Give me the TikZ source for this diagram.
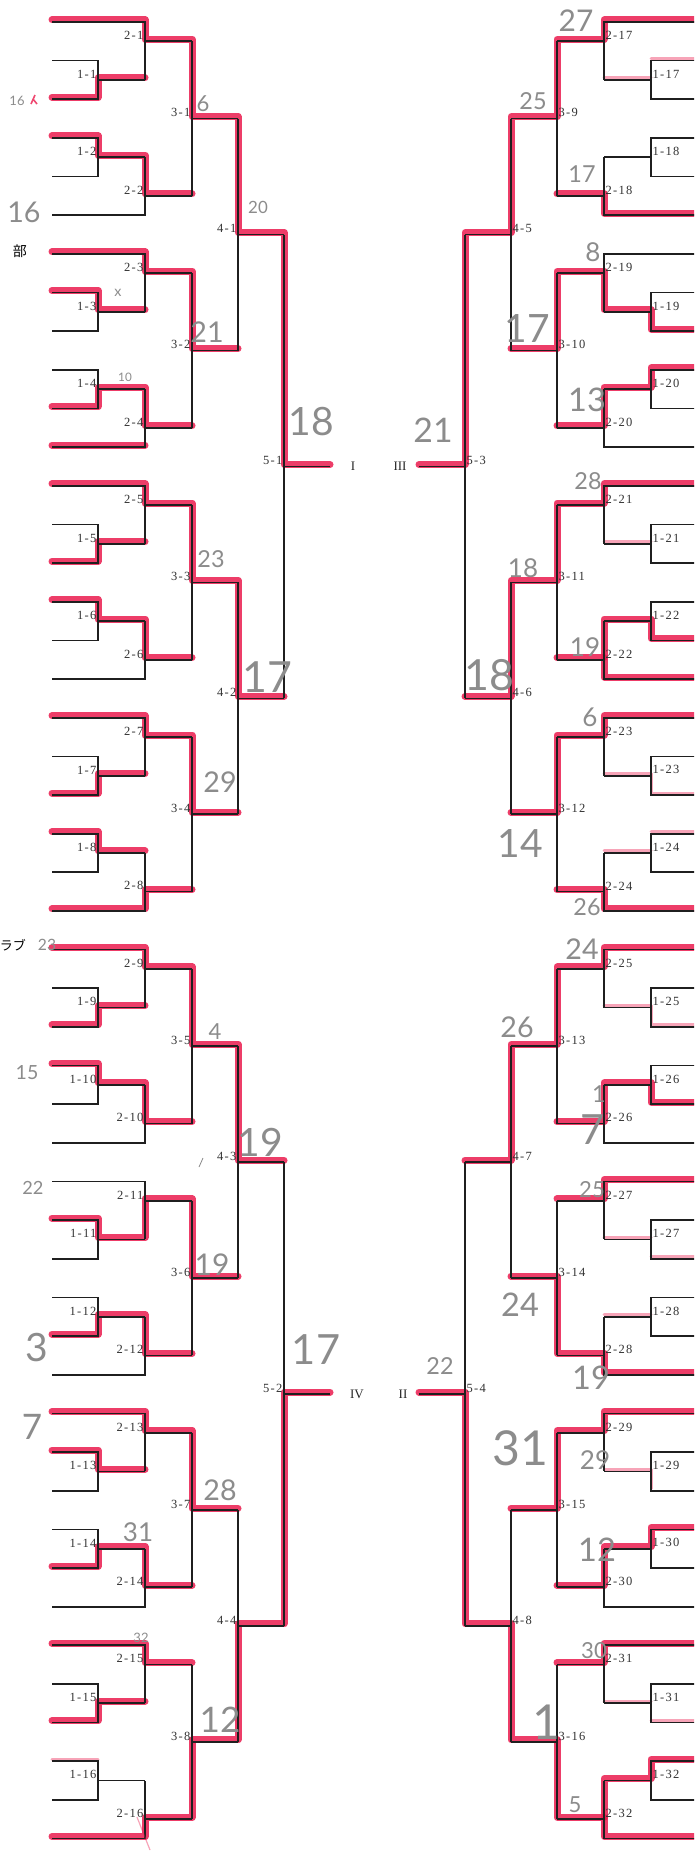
\documentclass[tikz,border=0pt]{standalone}
\usepackage{fontspec}
\setmainfont{Liberation Serif}
\newfontfamily\labfont[LetterSpace=10]{Liberation Serif}
\newfontfamily\hand{Lato}
\newfontfamily\cjk{Noto Sans CJK JP}
\definecolor{marker}{RGB}{235,28,78}
\definecolor{pencil}{RGB}{140,140,140}
\def\XS{52}\def\XA{98}\def\XB{145}\def\XC{192}\def\XD{238}\def\XE{284}\def\XO{330}
\tikzset{
  br/.style={line width=1.7pt, draw=black!88},
  lab/.style={font=\labfont\fontsize{12.5}{12.5}\selectfont, text=black!80, inner sep=1.4pt},
  roman/.style={font=\fontsize{13}{13}\selectfont, text=black!85, inner sep=0pt},
  hl/.style={line width=7pt, draw=marker, draw opacity=0.85, line cap=round, line join=round},
  hlf/.style={line width=3pt, draw=marker, draw opacity=0.4, line cap=round, line join=round},
  hand/.style={text=pencil, inner sep=0pt},
}
\newcommand\hw[5]{\node[hand,font={\hand\fontsize{\fpeval{1.3*#4}}{\fpeval{1.3*#4}}\selectfont}] (#1) at (#2,#3) {#5};}
\newcommand\bracketside[3]{%
  \foreach \g in {0,...,15}{%
    \pgfmathtruncatemacro\od{mod(\g,2)}%
    \pgfmathsetmacro\tp{3*\g+1-\od}%
    \pgfmathsetmacro\bt{\tp+1}%
    \pgfmathsetmacro\by{3*\g+2*\od}%
    \pgfmathsetmacro\oa{\tp+0.5}%
    \pgfmathsetmacro\ob{3*\g+0.5+\od}%
    \pgfmathtruncatemacro\k{\g+1+16*#1}%
    \coordinate (#3t\g) at (\XS,\tp);
    \coordinate (#3u\g) at (\XS,\bt);
    \coordinate (#3y\g) at (\XS,\by);
    \coordinate (#3a\g) at (\XA,\oa);
    \coordinate (#3b\g) at (\XB,\ob);
    \draw[br] (#3t\g) -| (\XA,\bt) -- (#3u\g);
    \draw[br] (#3a\g) -- (\XB,\oa);
    \draw[br] (#3y\g) -| (\XB,\oa);
    \draw[br] (#3b\g) -- (\XC,\ob);
    \node[lab,anchor=#2] (#3n\g) at (#3a\g) {1-\k};
    \node[lab,anchor=#2] (#3m\g) at (#3b\g) {2-\k};
  }%
  \foreach \h in {0,...,7}{%
    \pgfmathsetmacro\ta{6*\h+0.5}\pgfmathsetmacro\tb{6*\h+4.5}\pgfmathsetmacro\tc{6*\h+2.5}%
    \pgfmathtruncatemacro\k{\h+1+8*#1}%
    \coordinate (#3c\h) at (\XC,\tc);
    \draw[br] (\XC,\ta) -- (\XC,\tb);
    \draw[br] (#3c\h) -- (\XD,\tc);
    \node[lab,anchor=#2] (#3p\h) at (#3c\h) {3-\k};
  }%
  \foreach \q in {0,...,3}{%
    \pgfmathsetmacro\ta{12*\q+2.5}\pgfmathsetmacro\tb{12*\q+8.5}\pgfmathsetmacro\tc{12*\q+5.5}%
    \pgfmathtruncatemacro\k{\q+1+4*#1}%
    \coordinate (#3d\q) at (\XD,\tc);
    \draw[br] (\XD,\ta) -- (\XD,\tb);
    \draw[br] (#3d\q) -- (\XE,\tc);
    \node[lab,anchor=#2] (#3r\q) at (#3d\q) {4-\k};
  }%
  \foreach \f in {0,1}{%
    \pgfmathsetmacro\ta{24*\f+5.5}\pgfmathsetmacro\tb{24*\f+17.5}\pgfmathsetmacro\tc{24*\f+11.5}%
    \pgfmathtruncatemacro\k{\f+1+2*#1}%
    \coordinate (#3e\f) at (\XE,\tc);
    \draw[br] (\XE,\ta) -- (\XE,\tb);
    \draw[br] (#3e\f) -- (\XO,\tc);
    \node[lab,anchor=#2] (#3s\f) at (#3e\f) {5-\k};
  }%
}
\begin{document}
\begin{tikzpicture}[x=1pt,y=-1pt]
\useasboundingbox (0,0) rectangle (694,1852);
\clip (0,0) rectangle (694,1852);
\fill[white] (0,0) rectangle (694,1852);

% ---------- red marker, left ----------
\begin{scope}[y=-38.65pt, yshift=-20pt]
\draw[hl] (\XS,0) -- (\XB,0) -- (\XB,.5) -- (\XC,.5) -- (\XC,2.5) -- (\XD,2.5) -- (\XD,5.5) -- (\XE,5.5) -- (\XE,11.5) -- (\XO,11.5);
\draw[hl] (\XS,2) -- (\XA,2) -- (\XA,1.5) -- (\XB,1.5);
\draw[hl] (\XS,3) -- (\XA,3) -- (\XA,3.5) -- (\XB,3.5) -- (\XB,4.5) -- (\XC,4.5);
\draw[hl] (\XS,6) -- (\XB,6) -- (\XB,6.5) -- (\XC,6.5) -- (\XC,8.5) -- (\XD,8.5);
\draw[hl] (\XS,7) -- (\XA,7) -- (\XA,7.5) -- (\XB,7.5);
\draw[hl] (\XS,10) -- (\XA,10) -- (\XA,9.5) -- (\XB,9.5) -- (\XB,10.5) -- (\XC,10.5);
\draw[hl] (\XS,11) -- (\XB,11);
\draw[hl] (\XS,12) -- (\XB,12) -- (\XB,12.5) -- (\XC,12.5) -- (\XC,14.5) -- (\XD,14.5) -- (\XD,17.5) -- (\XE,17.5);
\draw[hl] (\XS,14) -- (\XA,14) -- (\XA,13.5) -- (\XB,13.5);
\draw[hl] (\XS,15) -- (\XA,15) -- (\XA,15.5) -- (\XB,15.5) -- (\XB,16.5) -- (\XC,16.5);
\draw[hl] (\XS,18) -- (\XB,18) -- (\XB,18.5) -- (\XC,18.5) -- (\XC,20.5) -- (\XD,20.5);
\draw[hl] (\XS,20) -- (\XA,20) -- (\XA,19.5) -- (\XB,19.5);
\draw[hl] (\XS,21) -- (\XA,21) -- (\XA,21.5) -- (\XB,21.5);
\draw[hl] (\XS,23) -- (\XB,23) -- (\XB,22.5) -- (\XC,22.5);
\draw[hl] (\XS,24) -- (\XB,24) -- (\XB,24.5) -- (\XC,24.5) -- (\XC,26.5) -- (\XD,26.5) -- (\XD,29.5) -- (\XE,29.5);
\draw[hl] (\XS,26) -- (\XA,26) -- (\XA,25.5) -- (\XB,25.5);
\draw[hl] (\XS,27) -- (\XA,27) -- (\XA,27.5) -- (\XB,27.5) -- (\XB,28.5) -- (\XC,28.5);
\draw[hl] (\XS,31) -- (\XA,31) -- (\XA,31.5) -- (\XB,31.5) -- (\XB,30.5) -- (\XC,30.5) -- (\XC,32.5) -- (\XD,32.5);
\draw[hl] (\XS,34) -- (\XA,34) -- (\XA,33.5) -- (\XB,33.5) -- (\XB,34.5) -- (\XC,34.5);
\draw[hl] (\XS,36) -- (\XB,36) -- (\XB,36.5) -- (\XC,36.5) -- (\XC,38.5) -- (\XD,38.5);
\draw[hl] (\XS,37) -- (\XA,37) -- (\XA,37.5) -- (\XB,37.5);
\draw[hl] (\XS,40) -- (\XA,40) -- (\XA,39.5) -- (\XB,39.5) -- (\XB,40.5) -- (\XC,40.5);
\draw[hl] (\XS,42) -- (\XB,42) -- (\XB,42.5) -- (\XC,42.5);
\draw[hl] (\XS,44) -- (\XA,44) -- (\XA,43.5) -- (\XB,43.5);
\draw[hl] (\XS,47) -- (\XB,47) -- (\XB,46.5) -- (\XC,46.5) -- (\XC,44.5) -- (\XD,44.5) -- (\XD,41.5) -- (\XE,41.5) -- (\XE,35.5) -- (\XO,35.5);
\draw[hlf] (\XS,45) -- (\XA,45);
\end{scope}

% ---------- red marker, right (mirrored) ----------
\begin{scope}[xshift=749pt, xscale=-1, y=-38.65pt, yshift=-20pt]
\draw[hl] (\XS,0) -- (\XB,0) -- (\XB,.5) -- (\XC,.5) -- (\XC,2.5) -- (\XD,2.5) -- (\XD,5.5) -- (\XE,5.5) -- (\XE,11.5) -- (\XO,11.5);
\draw[hlf] (\XS,1) -- (\XA,1) (\XA,1.5) -- (\XB,1.5);
\draw[hl] (\XS,5) -- (\XB,5) -- (\XB,4.5) -- (\XC,4.5);
\draw[hl] (\XS,8) -- (\XA,8) -- (\XA,7.5) -- (\XB,7.5) -- (\XB,6.5) -- (\XC,6.5) -- (\XC,8.5) -- (\XD,8.5);
\draw[hl] (\XS,9) -- (\XA,9) -- (\XA,9.5) -- (\XB,9.5) -- (\XB,10.5) -- (\XC,10.5);
\draw[hl] (\XS,12) -- (\XB,12) -- (\XB,12.5) -- (\XC,12.5) -- (\XC,14.5) -- (\XD,14.5) -- (\XD,17.5) -- (\XE,17.5);
\draw[hlf] (\XA,13.5) -- (\XB,13.5);
\draw[hl] (\XS,16) -- (\XA,16) -- (\XA,15.5) -- (\XB,15.5) -- (\XB,17) -- (\XS,17);
\draw[hl] (\XB,16.5) -- (\XC,16.5);
\draw[hl] (\XS,18) -- (\XB,18) -- (\XB,18.5) -- (\XC,18.5) -- (\XC,20.5) -- (\XD,20.5);
\draw[hlf] (\XS,20) -- (\XA,20) -- (\XA,19.5) -- (\XB,19.5);
\draw[hl] (\XS,23) -- (\XB,23) -- (\XB,22.5) -- (\XC,22.5);
\draw[hlf] (\XS,21) -- (\XA,21) (\XA,21.5) -- (\XB,21.5);
\draw[hl] (\XS,24) -- (\XB,24) -- (\XB,24.5) -- (\XC,24.5) -- (\XC,26.5) -- (\XD,26.5) -- (\XD,29.5) -- (\XE,29.5);
\draw[hlf] (\XS,26) -- (\XA,26) -- (\XA,25.5) -- (\XB,25.5);
\draw[hl] (\XS,28) -- (\XA,28) -- (\XA,27.5) -- (\XB,27.5) -- (\XB,28.5) -- (\XC,28.5);
\draw[hl] (\XS,30) -- (\XB,30) -- (\XB,30.5) -- (\XC,30.5);
\draw[hlf] (\XS,32) -- (\XA,32) (\XA,31.5) -- (\XB,31.5);
\draw[hl] (\XS,35) -- (\XB,35) -- (\XB,34.5) -- (\XC,34.5) -- (\XC,32.5) -- (\XD,32.5);
\draw[hlf] (\XA,33.5) -- (\XB,33.5);
\draw[hl] (\XS,36) -- (\XB,36) -- (\XB,36.5) -- (\XC,36.5) -- (\XC,38.5) -- (\XD,38.5);
\draw[hlf] (\XA,38) -- (\XA,37.5) -- (\XB,37.5);
\draw[hl] (\XS,39) -- (\XA,39) -- (\XA,39.5) -- (\XB,39.5) -- (\XB,40.5) -- (\XC,40.5);
\draw[hl] (\XS,42) -- (\XB,42) -- (\XB,42.5) -- (\XC,42.5);
\draw[hlf] (\XS,44) -- (\XA,44) (\XA,43.5) -- (\XB,43.5);
\draw[hl] (\XS,47) -- (\XB,47) -- (\XB,46.5) -- (\XC,46.5) -- (\XC,44.5) -- (\XD,44.5) -- (\XD,41.5) -- (\XE,41.5) -- (\XE,35.5) -- (\XO,35.5);
\draw[hl] (\XS,45) -- (\XA,45) -- (\XA,45.5) -- (\XB,45.5) -- (\XB,46.5);
\end{scope}

% ---------- printed bracket ----------
\begin{scope}[y=-38.65pt, yshift=-22pt]
\bracketside{0}{south east}{L}
\end{scope}
\begin{scope}[xshift=749pt, xscale=-1, y=-38.65pt, yshift=-22pt]
\bracketside{1}{south west}{R}
\end{scope}

\node[roman] (rI) at (353,466) {I};
\node[roman] (rIII) at (400,466) {III};
\node[roman] (rIV) at (357,1394) {IV};
\node[roman] (rII) at (403,1394) {II};

\node[font=\cjk\fontsize{14}{14}\selectfont, anchor=east, inner sep=0pt] (club1) at (27,251) {部};
\node[font=\cjk\fontsize{13}{13}\selectfont, anchor=east, inner sep=0pt] (club2) at (26,945) {ラブ};

% ---------- pencil notes, left ----------
\hw{h1}{17}{101}{10}{16}
\draw[draw=marker, line width=1.6pt, draw opacity=.8] (31,104) -- (35,95) (33,99) -- (37,104);
\hw{h2}{24}{212}{22}{16}
\hw{h3}{203}{104}{17}{6}
\hw{h4}{258}{207}{13}{20}
\hw{h5}{118}{293}{11}{x}
\hw{h6}{207}{332}{22}{21}
\hw{h7}{125}{377}{9}{10}
\hw{h8}{311}{422}{30}{18}
\hw{h9}{433}{430}{26}{21}
\hw{h10}{211}{559}{18}{23}
\hw{h11}{267}{677}{33}{17}
\hw{h12}{220}{782}{22}{29}
\hw{h13}{47}{945}{12}{23}
\hw{h14}{27}{1073}{15}{15}
\hw{h15}{215}{1032}{17}{4}
\hw{h16}{260}{1142}{30}{19}
\hw{h17}{212}{1265}{23}{19}
\hw{h18}{33}{1188}{14}{22}
\hw{h19}{37}{1348}{30}{3}
\hw{h20}{316}{1350}{32}{17}
\hw{h21}{440}{1366}{18}{22}
\hw{h22}{32}{1427}{27}{7}
\hw{h23}{220}{1490}{22}{28}
\hw{h24}{138}{1532}{20}{31}
\hw{h25}{141}{1638}{10}{32}
\hw{h26}{220}{1720}{27}{12}
\draw[draw=pencil, line width=0.8pt] (199,1167) -- (203,1158);
\draw[draw=marker, draw opacity=.4, line width=1.2pt] (137,1817) -- (150,1850);

% ---------- pencil notes, right ----------
\hw{r1}{576}{21}{23}{27}
\hw{r2}{533}{101}{18}{25}
\hw{r3}{582}{174}{18}{17}
\hw{r4}{593}{252}{20}{8}
\hw{r5}{527}{328}{30}{17}
\hw{r6}{587}{400}{25}{13}
\hw{r7}{588}{481}{18}{28}
\hw{r8}{523}{568}{20}{18}
\hw{r9}{585}{647}{20}{19}
\hw{r10}{489}{675}{33}{18}
\hw{r11}{590}{717}{20}{6}
\hw{r12}{520}{843}{30}{14}
\hw{r13}{587}{907}{18}{26}
\hw{r14}{582}{949}{22}{24}
\hw{r15}{517}{1027}{22}{26}
\hw{r16}{599}{1094}{18}{1}
\hw{r17}{593}{1130}{32}{7}
\hw{r18}{592}{1190}{17}{25}
\hw{r19}{520}{1305}{25}{24}
\hw{r20}{591}{1378}{25}{19}
\hw{r21}{520}{1448}{37}{31}
\hw{r22}{595}{1460}{20}{29}
\hw{r23}{597}{1550}{25}{12}
\hw{r24}{594}{1651}{17}{30}
\hw{r25}{546}{1722}{37}{1}
\hw{r26}{575}{1805}{17}{5}
\end{tikzpicture}
\end{document}
